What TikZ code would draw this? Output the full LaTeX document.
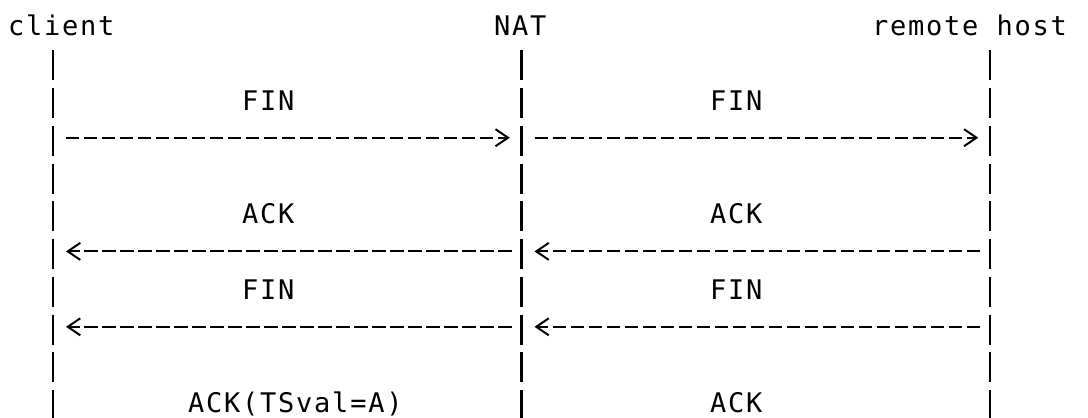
\documentclass[tikz,border=0pt]{standalone}
\usepackage{fontspec}
\usetikzlibrary{arrows.meta}
\newfontfamily\seqfont[LetterSpace=6.5]{DejaVu Sans Mono}

\begin{document}
\begin{tikzpicture}[x=1pt, y=-1pt,
    txt/.style={anchor=base west, inner sep=0pt, font=\seqfont\fontsize{27}{30}\selectfont},
    life/.style={line width=2.6pt, dash pattern=on 30pt off 7.75pt},
    msg/.style={line width=2pt, dash pattern=on 13.3pt off 4.7pt, -{Straight Barb[length=12.5pt, width=17pt]}},
    fwd/.style={msg, shorten <=13pt, shorten >=11.7pt},
    back/.style={msg, shorten <=10pt, shorten >=13pt},
  ]
    \useasboundingbox (0, 0) rectangle (1088, 418);

    % participants
    \node[txt] (client) at (8, 35) {client};
    \node[txt] (nat) at (494, 35) {NAT};
    \node[txt] (host) at (872, 35) {remote host};

    % lifelines
    \coordinate (client-top) at (53, 50.25);
    \coordinate (client-end) at (53, 418);
    \coordinate (nat-top) at (521.5, 50.25);
    \coordinate (nat-end) at (521.5, 418);
    \coordinate (host-top) at (990, 50.25);
    \coordinate (host-end) at (990, 418);
    \draw[life] (client-top) -- (client-end);
    \draw[life] (nat-top) -- (nat-end);
    \draw[life] (host-top) -- (host-end);

    % message rows
    \coordinate (c3) at (client-top |- 0, 137.7);
    \coordinate (n3) at (nat-top |- 0, 137.7);
    \coordinate (h3) at (host-top |- 0, 137.7);
    \coordinate (c6) at (client-top |- 0, 251.4);
    \coordinate (n6) at (nat-top |- 0, 251.4);
    \coordinate (h6) at (host-top |- 0, 251.4);
    \coordinate (c8) at (client-top |- 0, 326.8);
    \coordinate (n8) at (nat-top |- 0, 326.8);
    \coordinate (h8) at (host-top |- 0, 326.8);

    % FIN from client
    \node[txt] (fin1) at (242, 110.5) {FIN};
    \node[txt] (fin2) at (710, 110.5) {FIN};
    \draw[fwd] (c3) -- (n3);
    \draw[fwd] (n3) -- (h3);

    % ACK from remote host
    \node[txt] (ack1) at (242, 223.75) {ACK};
    \node[txt] (ack2) at (710, 223.75) {ACK};
    \draw[back] (n6) -- (c6);
    \draw[back] (h6) -- (n6);

    % FIN from remote host
    \node[txt] (fin3) at (242, 299.25) {FIN};
    \node[txt] (fin4) at (710, 299.25) {FIN};
    \draw[back] (n8) -- (c8);
    \draw[back] (h8) -- (n8);

    % last ACK
    \node[txt] (ack3) at (188, 412.5) {ACK(TSval=A)};
    \node[txt] (ack4) at (710, 412.5) {ACK};
  \end{tikzpicture}
\end{document}
